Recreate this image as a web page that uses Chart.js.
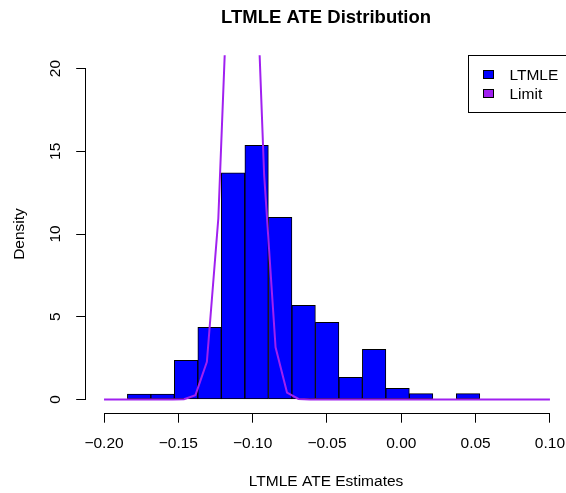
<!DOCTYPE html>
<html><head><meta charset="utf-8">
<script src="https://cdn.jsdelivr.net/npm/chart.js@4/dist/chart.umd.min.js"></script>
<style>html,body{margin:0;padding:0;background:#fff;overflow:hidden}canvas{display:block}</style>
</head><body>
<canvas id="c" width="566" height="493"></canvas>
<script>
// ---- data ----
const binEdges = [-0.1843, -0.1685, -0.1527, -0.1369, -0.1211, -0.1053, -0.0894, -0.0736,
                  -0.0578, -0.0420, -0.0262, -0.0104, 0.0054, 0.0212, 0.0370, 0.0528];
const ltmleDensity = [0.33, 0.33, 2.37, 4.36, 13.69, 15.36, 11.01, 5.69, 4.66, 1.34, 3.03, 0.68, 0.35, 0, 0.35];
const limitX = [-0.2000, -0.1923, -0.1846, -0.1769, -0.1692, -0.1615, -0.1538, -0.1462, -0.1385, -0.1308,
                -0.1231, -0.1154, -0.1077, -0.1000, -0.0923, -0.0846, -0.0769, -0.0692, -0.0615, -0.0538,
                -0.0462, -0.0385, -0.0308, -0.0231, -0.0154, -0.0077, 0.0000, 0.0077, 0.0154, 0.0231,
                0.0308, 0.0385, 0.0462, 0.0538, 0.0615, 0.0692, 0.0769, 0.0846, 0.0923, 0.1000];
const limitDensity = [0, 0, 0, 0, 0, 0, 0, 0.02, 0.26, 2.28,
                      10.95, 28.7, 41.0, 32.0, 13.6, 3.15, 0.42, 0.03, 0, 0,
                      0, 0, 0, 0, 0, 0, 0, 0, 0, 0,
                      0, 0, 0, 0, 0, 0, 0, 0, 0, 0];
const xTicks = [-0.20, -0.15, -0.10, -0.05, 0.00, 0.05, 0.10];
const xTickLabels = ['\u22120.20', '\u22120.15', '\u22120.10', '\u22120.05', '0.00', '0.05', '0.10'];
const yTicks = [0, 5, 10, 15, 20];
const yTickLabels = ['0', '5', '10', '15', '20'];
const seriesNames = ['LTMLE', 'Limit'];
const seriesColors = ['#0000FF', '#A020F0'];
const chartTitle = 'LTMLE ATE Distribution';
const xTitle = 'LTMLE ATE Estimates';
const yTitle = 'Density';

// ---- build datasets ----
const barPoints = ltmleDensity.map((d, i) => ({ x: (binEdges[i] + binEdges[i + 1]) / 2, y: d }));
const linePoints = limitX.map((x, i) => ({ x: x, y: limitDensity[i] }));

const FONT = '"Liberation Sans", Arial, Helvetica, sans-serif';
Chart.defaults.font.family = FONT;
Chart.defaults.color = '#000';

const rDecor = {
  id: 'rDecor',
  afterDraw(chart) {
    const { ctx, chartArea, scales: { x, y } } = chart;
    ctx.save();
    ctx.strokeStyle = '#000';
    ctx.lineWidth = 1;
    ctx.beginPath();
    const yb = Math.round(chartArea.bottom) + 0.5;
    ctx.moveTo(x.getPixelForValue(xTicks[0]), yb);
    ctx.lineTo(x.getPixelForValue(xTicks[xTicks.length - 1]), yb);
    const xl = Math.round(chartArea.left) - 0.5;
    ctx.moveTo(xl, y.getPixelForValue(yTicks[0]));
    ctx.lineTo(xl, y.getPixelForValue(yTicks[yTicks.length - 1]));
    ctx.stroke();

    // legend (R style, top-right inside plot region)
    const lx = 468.5, ly = 55.5, lh = 57;
    ctx.strokeStyle = '#000';
    ctx.strokeRect(lx, ly, 140, lh);
    ctx.font = '15.5px ' + FONT;
    ctx.textBaseline = 'middle';
    ctx.textAlign = 'left';
    seriesNames.forEach((name, i) => {
      const cy = 74.5 + i * 19;
      ctx.fillStyle = seriesColors[i];
      ctx.fillRect(483, cy - 4.5, 11, 9);
      ctx.strokeRect(483.5, cy - 4, 10, 8);
      ctx.fillStyle = '#000';
      ctx.fillText(name, 509.5, cy + 0.8);
    });
    ctx.restore();
  }
};

new Chart(document.getElementById('c'), {
  type: 'bar',
  data: {
    datasets: [
      {
        type: 'line',
        label: seriesNames[1],
        data: linePoints,
        borderColor: seriesColors[1],
        borderWidth: 2,
        pointRadius: 0,
        tension: 0,
        fill: false,
        order: 0
      },
      {
        type: 'bar',
        label: seriesNames[0],
        data: barPoints,
        backgroundColor: seriesColors[0],
        borderColor: '#000',
        borderWidth: 1,
        borderSkipped: false,
        barPercentage: 1,
        categoryPercentage: 1,
        order: 1
      }
    ]
  },
  options: {
    responsive: false,
    animation: false,
    devicePixelRatio: 1,
    layout: { padding: 0 },
    plugins: {
      legend: { display: false },
      tooltip: { enabled: false },
      title: {
        display: true,
        text: chartTitle,
        fullSize: false,
        font: { size: 18.5, weight: 'bold', family: FONT },
        color: '#000',
        padding: { top: 6.4, bottom: 26.7 }
      }
    },
    scales: {
      x: {
        type: 'linear',
        min: -0.212,
        max: 0.1108,
        offset: false,
        afterBuildTicks: s => { s.ticks = xTicks.map(v => ({ value: v })); },
        afterFit: s => { s.height = 80.3; s.paddingLeft = 0; s.paddingRight = 0; },
        ticks: {
          autoSkip: false, minRotation: 0, maxRotation: 0,
          padding: 11.7, font: { size: 15.5 }, color: '#000',
          callback: (v, i) => xTickLabels[i]
        },
        grid: { display: true, offset: false, drawOnChartArea: false, drawTicks: true, tickLength: 10, color: '#000', lineWidth: 1 },
        border: { display: false },
        title: { display: true, text: xTitle, font: { size: 15.5 }, color: '#000', padding: { top: 0, bottom: 2.4 } }
      },
      y: {
        type: 'linear',
        min: -0.8,
        max: 20.8,
        afterBuildTicks: s => { s.ticks = yTicks.map(v => ({ value: v })); },
        afterFit: s => { s.width = 86.2; s.paddingTop = 0; s.paddingBottom = 0; },
        ticks: {
          autoSkip: false, minRotation: 90, maxRotation: 90, crossAlign: 'center',
          padding: 11.6, font: { size: 15.5 }, color: '#000',
          callback: (v, i) => yTickLabels[i]
        },
        grid: { display: true, drawOnChartArea: false, drawTicks: true, tickLength: 10, color: '#000', lineWidth: 1 },
        border: { display: false },
        title: { display: true, text: yTitle, font: { size: 15.5 }, color: '#000', padding: { top: 10.5, bottom: 0 } }
      }
    }
  },
  plugins: [rDecor]
});
</script>
</body></html>
